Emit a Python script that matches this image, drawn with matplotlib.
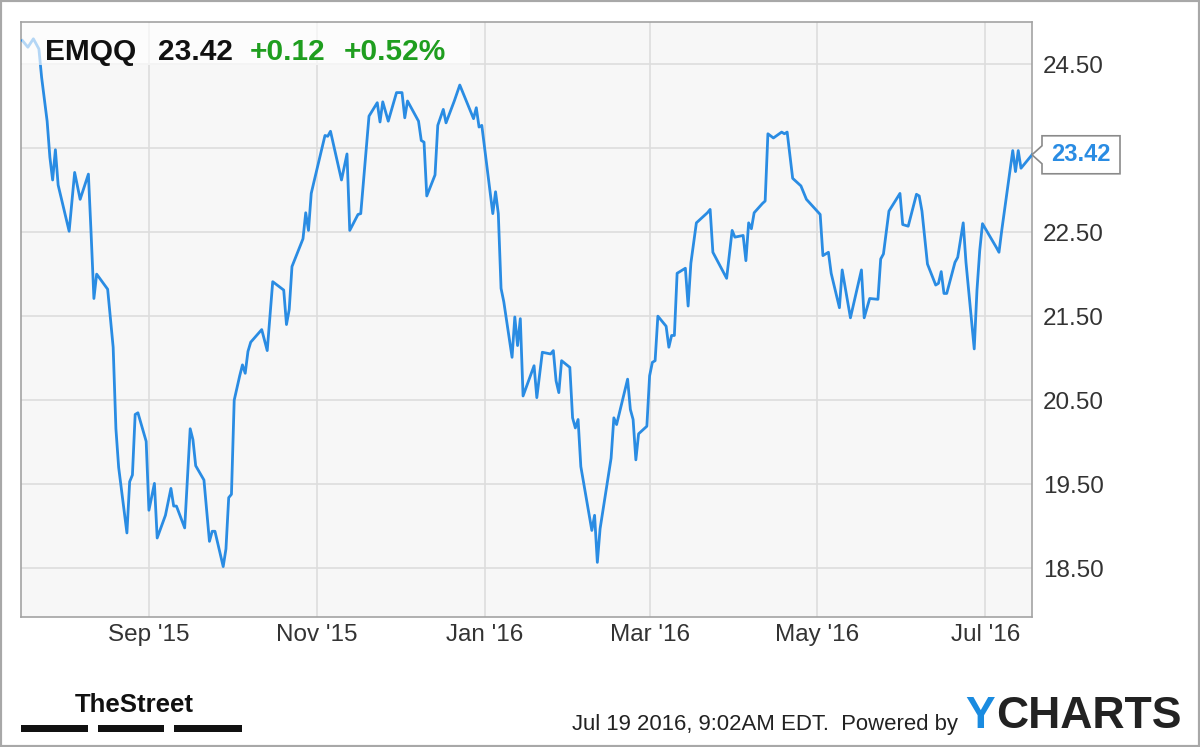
import matplotlib
matplotlib.use("Agg")
import matplotlib.pyplot as plt
import matplotlib.dates as mdates
import pandas as pd
from matplotlib.patches import Rectangle, Polygon

# ---------------- data ----------------
dates = [
    "2015-07-17", "2015-07-19", "2015-07-21", "2015-07-23", "2015-07-24", "2015-07-26",
    "2015-07-27", "2015-07-28", "2015-07-29", "2015-07-30", "2015-08-03", "2015-08-05",
    "2015-08-07", "2015-08-10", "2015-08-11", "2015-08-12", "2015-08-13", "2015-08-17",
    "2015-08-19", "2015-08-20", "2015-08-21", "2015-08-24", "2015-08-25", "2015-08-26",
    "2015-08-27", "2015-08-28", "2015-08-31", "2015-09-01", "2015-09-03", "2015-09-04",
    "2015-09-07", "2015-09-09", "2015-09-10", "2015-09-11", "2015-09-14", "2015-09-16",
    "2015-09-17", "2015-09-18", "2015-09-21", "2015-09-23", "2015-09-24", "2015-09-25",
    "2015-09-28", "2015-09-29", "2015-09-30", "2015-10-01", "2015-10-02", "2015-10-04",
    "2015-10-05", "2015-10-06", "2015-10-07", "2015-10-08", "2015-10-12", "2015-10-14",
    "2015-10-16", "2015-10-20", "2015-10-21", "2015-10-22", "2015-10-23", "2015-10-27",
    "2015-10-28", "2015-10-29", "2015-10-30", "2015-10-31", "2015-11-04", "2015-11-05",
    "2015-11-06", "2015-11-10", "2015-11-12", "2015-11-13", "2015-11-16", "2015-11-17",
    "2015-11-20", "2015-11-23", "2015-11-24", "2015-11-25", "2015-11-27", "2015-11-30",
    "2015-12-02", "2015-12-03", "2015-12-04", "2015-12-08", "2015-12-09", "2015-12-10",
    "2015-12-11", "2015-12-14", "2015-12-15", "2015-12-17", "2015-12-18", "2015-12-21",
    "2015-12-23", "2015-12-28", "2015-12-29", "2015-12-30", "2015-12-31", "2016-01-04",
    "2016-01-05", "2016-01-06", "2016-01-07", "2016-01-08", "2016-01-11", "2016-01-12",
    "2016-01-13", "2016-01-14", "2016-01-15", "2016-01-19", "2016-01-20", "2016-01-22",
    "2016-01-25", "2016-01-26", "2016-01-27", "2016-01-28", "2016-01-29", "2016-02-01",
    "2016-02-02", "2016-02-03", "2016-02-04", "2016-02-05", "2016-02-09", "2016-02-10",
    "2016-02-11", "2016-02-12", "2016-02-16", "2016-02-17", "2016-02-18", "2016-02-22",
    "2016-02-23", "2016-02-24", "2016-02-25", "2016-02-26", "2016-02-29", "2016-03-01",
    "2016-03-02", "2016-03-03", "2016-03-04", "2016-03-07", "2016-03-08", "2016-03-09",
    "2016-03-10", "2016-03-11", "2016-03-14", "2016-03-15", "2016-03-16", "2016-03-18",
    "2016-03-22", "2016-03-23", "2016-03-24", "2016-03-29", "2016-03-31", "2016-04-01",
    "2016-04-04", "2016-04-05", "2016-04-06", "2016-04-07", "2016-04-08", "2016-04-11",
    "2016-04-12", "2016-04-13", "2016-04-15", "2016-04-18", "2016-04-19", "2016-04-20",
    "2016-04-22", "2016-04-25", "2016-04-27", "2016-05-02", "2016-05-03", "2016-05-05",
    "2016-05-06", "2016-05-09", "2016-05-10", "2016-05-13", "2016-05-17", "2016-05-18",
    "2016-05-20", "2016-05-23", "2016-05-24", "2016-05-25", "2016-05-27", "2016-05-31",
    "2016-06-01", "2016-06-03", "2016-06-06", "2016-06-07", "2016-06-08", "2016-06-10",
    "2016-06-13", "2016-06-14", "2016-06-15", "2016-06-16", "2016-06-17", "2016-06-20",
    "2016-06-21", "2016-06-23", "2016-06-24", "2016-06-27", "2016-06-28", "2016-06-29",
    "2016-06-30", "2016-07-05", "2016-07-06", "2016-07-07", "2016-07-11", "2016-07-12",
    "2016-07-13", "2016-07-14", "2016-07-18",
]
prices = [
    24.78, 24.70, 24.80, 24.68, 24.34, 23.82,
    23.39, 23.12, 23.48, 23.06, 22.51, 23.21,
    22.89, 23.19, 22.47, 21.71, 22.00, 21.82,
    21.13, 20.16, 19.70, 18.92, 19.53, 19.61,
    20.33, 20.35, 20.01, 19.19, 19.51, 18.86,
    19.13, 19.45, 19.24, 19.24, 18.98, 20.16,
    20.03, 19.72, 19.55, 18.82, 18.94, 18.94,
    18.52, 18.73, 19.34, 19.38, 20.50, 20.79,
    20.92, 20.82, 21.08, 21.19, 21.34, 21.09,
    21.91, 21.81, 21.40, 21.58, 22.09, 22.42,
    22.73, 22.52, 22.96, 23.10, 23.65, 23.64,
    23.70, 23.12, 23.43, 22.52, 22.71, 22.72,
    23.88, 24.04, 23.81, 24.05, 23.82, 24.16,
    24.16, 23.86, 24.06, 23.82, 23.59, 23.57,
    22.93, 23.18, 23.77, 23.96, 23.80, 24.06,
    24.25, 23.85, 23.98, 23.75, 23.77, 22.72,
    22.98, 22.72, 21.83, 21.67, 21.01, 21.49,
    21.15, 21.47, 20.55, 20.91, 20.53, 21.07,
    21.05, 21.09, 20.73, 20.59, 20.97, 20.89,
    20.29, 20.17, 20.27, 19.71, 18.95, 19.13,
    18.57, 18.97, 19.81, 20.29, 20.21, 20.75,
    20.39, 20.27, 19.79, 20.10, 20.19, 20.79,
    20.95, 20.97, 21.50, 21.38, 21.13, 21.27,
    21.27, 22.01, 22.07, 21.62, 22.13, 22.61,
    22.73, 22.77, 22.26, 21.95, 22.52, 22.44,
    22.46, 22.16, 22.61, 22.54, 22.73, 22.84,
    22.87, 23.67, 23.62, 23.69, 23.67, 23.69,
    23.14, 23.05, 22.89, 22.71, 22.22, 22.26,
    22.01, 21.60, 22.05, 21.48, 22.05, 21.48,
    21.71, 21.70, 22.18, 22.24, 22.75, 22.96,
    22.59, 22.57, 22.95, 22.93, 22.75, 22.12,
    21.87, 21.89, 22.03, 21.77, 21.77, 22.14,
    22.20, 22.61, 22.14, 21.11, 21.81, 22.28,
    22.60, 22.32, 22.26, 22.52, 23.47, 23.22,
    23.47, 23.26, 23.42,
]

ticker = "EMQQ"
last_price_text = "23.42"
change_text = "+0.12"
change_pct_text = "+0.52%"

xtick_dates = ["2015-09-01", "2015-11-01", "2016-01-01", "2016-03-01", "2016-05-01", "2016-07-01"]
xtick_labels = ["Sep '15", "Nov '15", "Jan '16", "Mar '16", "May '16", "Jul '16"]
ytick_values = [18.5, 19.5, 20.5, 21.5, 22.5, 23.5, 24.5]
ytick_labels = ["18.50", "19.50", "20.50", "21.50", "22.50", "", "24.50"]

footer_text = "Jul 19 2016, 9:02AM EDT.  Powered by"
brand_y = "Y"
brand_rest = "CHARTS"
street_brand = "TheStreet"

# ---------------- style ----------------
plt.rcParams["font.family"] = ["Liberation Sans", "DejaVu Sans"]
W, H = 1200, 747
LINE = "#2a8ce3"
GREEN = "#1f9e1f"

fig = plt.figure(figsize=(W / 100, H / 100), dpi=100)
fig.patch.set_facecolor("white")

ax = fig.add_axes([21 / W, 1 - 617 / H, (1032 - 21) / W, (617 - 22) / H])
ax.set_facecolor("#f7f7f7")

x = pd.to_datetime(dates)
ax.plot(x, prices, color=LINE, lw=2.0, solid_joinstyle="round", zorder=3)

ax.set_xlim(pd.Timestamp("2015-07-16 12:00"), pd.Timestamp("2016-07-18"))
ax.set_ylim(17.92, 25.0)

ax.set_xticks(pd.to_datetime(xtick_dates))
ax.set_xticklabels(xtick_labels)
ax.set_yticks(ytick_values)
ax.set_yticklabels(ytick_labels)
ax.yaxis.tick_right()
ax.tick_params(axis="y", length=0, pad=8, labelsize=17.5, labelcolor="#333333")
ax.tick_params(axis="x", length=0, pad=5, labelsize=17.5, labelcolor="#333333")

ax.grid(True, color="#dddddd", lw=1.2, zorder=0)
ax.set_axisbelow(True)
for s in ax.spines.values():
    s.set_color("#a3a3a3")
    s.set_linewidth(1.2)

# header overlay box
fig.add_artist(Rectangle((22 / W, 1 - 65 / H), (470 - 22) / W, (65 - 23) / H,
                         transform=fig.transFigure, facecolor="white", alpha=0.65,
                         edgecolor="none", zorder=5))
base = 1 - 60 / H
fig.text(45 / W, base, ticker, fontsize=21.5, fontweight="bold", color="#111111", va="baseline", zorder=6)
fig.text(158 / W, base, last_price_text, fontsize=21.5, fontweight="bold", color="#111111", va="baseline", zorder=6)
fig.text(250 / W, base, change_text, fontsize=21.5, fontweight="bold", color=GREEN, va="baseline", zorder=6)
fig.text(344 / W, base, change_pct_text, fontsize=21.5, fontweight="bold", color=GREEN, va="baseline", zorder=6)

# last-price tag
fig.canvas.draw()
renderer = fig.canvas.get_renderer()
ypix = ax.transData.transform((mdates.date2num(x[-1]), prices[-1]))[1]
tag = [(1032, ypix), (1042, ypix + 9), (1042, ypix + 19), (1120, ypix + 19),
       (1120, ypix - 19), (1042, ypix - 19), (1042, ypix - 9)]
fig.add_artist(Polygon([(px / W, py / H) for px, py in tag], closed=True,
                       transform=fig.transFigure, facecolor="white",
                       edgecolor="#8a8a8a", lw=1.2, zorder=6))
fig.text(1081 / W, ypix / H, f"{prices[-1]:.2f}", fontsize=17, fontweight="bold",
         color=LINE, ha="center", va="center", zorder=7)

# footer
fig.text(572 / W, 1 - 730 / H, footer_text, fontsize=15.9, color="#222222", va="baseline")
ty = fig.text(965 / W, 1 - 728 / H, brand_y, fontsize=32, fontweight="bold", color="#1a8be0", va="baseline")
yext = ty.get_window_extent(renderer)
fig.text((yext.x1 + 1) / W, 1 - 728 / H, brand_rest, fontsize=32, fontweight="bold",
         color="#222222", va="baseline")

fig.text(75 / W, 1 - 712 / H, street_brand, color="#111111", va="baseline",
         family=["Liberation Sans", "DejaVu Sans"], fontsize=18.5, fontweight="bold")
for x0, x1 in [(21, 88), (98, 164), (174, 242)]:
    fig.add_artist(Rectangle((x0 / W, 1 - 732 / H), (x1 - x0) / W, 7 / H,
                             transform=fig.transFigure, facecolor="#111111", edgecolor="none"))

# outer border
fig.add_artist(Rectangle((0, 0), 1, 1, transform=fig.transFigure, fill=False,
                         edgecolor="#a8a8a8", lw=3, zorder=10))

fig.savefig("out.png", dpi=100, facecolor="white")
